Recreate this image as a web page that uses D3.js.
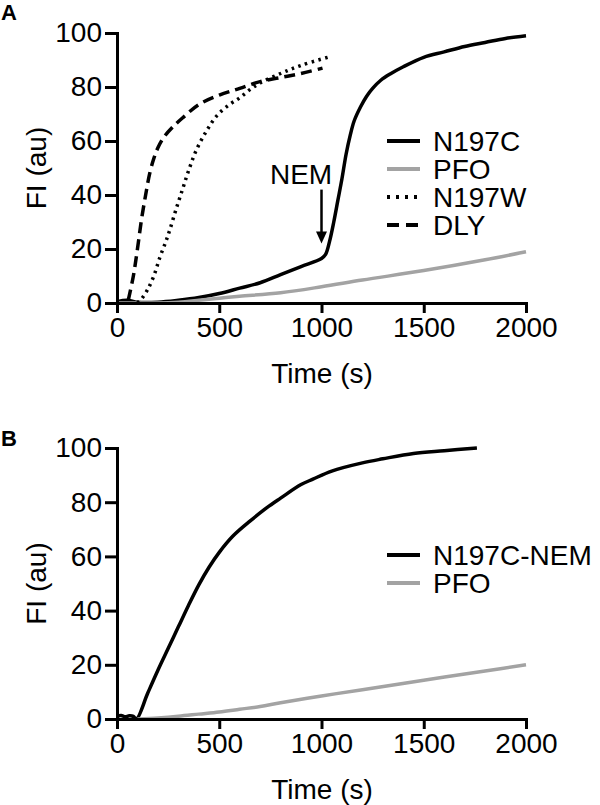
<!DOCTYPE html>
<html lang="en">
<head>
  <meta charset="UTF-8">
  <title>FI kinetics</title>
  <script src="https://d3js.org/d3.v7.min.js"></script>
  <style>
    body { margin: 0; background: #fff; }
    svg { font-family: "Liberation Sans", Arial, sans-serif; }
    .axis path, .axis line { stroke: #000; stroke-width: 3; }
    .axis text { font-size: 28px; fill: #000; }
    .title { font-size: 28px; fill: #000; }
    .panel-label { font-size: 22px; font-weight: bold; }
  </style>
</head>
<body>
  <script>
    // Panel A data (time in s, FI in au)
    const aN197C_t = [0, 50, 100, 200, 300, 400, 500, 600, 700, 800, 900, 1000, 1020, 1040, 1060, 1080, 1100, 1120, 1140, 1160, 1190, 1220, 1250, 1290, 1340, 1400, 1500, 1600, 1700, 1800, 1900, 2000];
    const aN197C_v = [0.5, 1, 0.3, 0.3, 1, 2, 3.5, 5.5, 7.5, 10.5, 13.5, 16.5, 18, 23, 30, 38, 46, 55, 62, 67.5, 72.5, 76.5, 79.5, 82.5, 85, 87.5, 91, 93, 95, 96.5, 98, 99];
    const aPFO_t = [0, 100, 200, 300, 400, 500, 600, 800, 1000, 1200, 1500, 1800, 2000];
    const aPFO_v = [0, 0, 0, 0.3, 1, 1.8, 2.5, 3.8, 6, 8.5, 12, 16, 19];
    const aN197W_t = [100, 120, 150, 180, 210, 240, 260, 290, 320, 350, 390, 440, 490, 550, 600, 650, 700, 800, 900, 1030];
    const aN197W_v = [0, 1.5, 5, 10, 17, 23, 27.5, 35, 42, 49, 57, 64, 69.5, 73.5, 76, 79, 81.5, 85, 88, 91];
    const aDLY_t = [55, 80, 100, 120, 140, 160, 180, 200, 230, 270, 320, 400, 500, 600, 700, 800, 900, 1005];
    const aDLY_v = [1, 10, 20, 31, 40, 48, 53.5, 57.5, 61.5, 65, 68.5, 73.5, 77, 79.5, 82, 83.5, 85, 87];

    // Panel B data
    const bNEM_t = [0, 20, 40, 60, 80, 95, 150, 200, 250, 300, 350, 400, 450, 500, 567, 650, 733, 800, 900, 958, 1050, 1200, 1300, 1450, 1600, 1760];
    const bNEM_v = [1, 1.3, 0.8, 1.2, 1, 0, 9.5, 18, 26, 34, 42, 49.5, 56, 61.5, 67.5, 73, 78, 81.5, 86.5, 88.5, 91.5, 94.5, 96, 98, 99, 100];
    const bPFO_t = [100, 200, 300, 400, 500, 600, 700, 800, 1000, 1200, 1500, 1800, 2000];
    const bPFO_v = [0, 0.4, 1, 1.8, 2.6, 3.6, 4.6, 6, 8.5, 10.8, 14.3, 17.7, 20];

    const xTicks = [0, 500, 1000, 1500, 2000];
    const yTicks = [0, 20, 40, 60, 80, 100];

    const grey = "#a3a3a3";
    const styles = {
      solid: { color: "#000", dash: null },
      grey: { color: grey, dash: null },
      dotted: { color: "#000", dash: "2.5,4.5" },
      dashed: { color: "#000", dash: "11,6" }
    };

    const svg = d3.select("body").append("svg")
      .attr("width", 600)
      .attr("height", 805);

    function drawPanel(cfg) {
      const x = d3.scaleLinear().domain([0, 2000]).range([117, 526]);
      const y = d3.scaleLinear().domain([0, 100]).range([cfg.bottom, cfg.top]);
      const g = svg.append("g");

      const line = d3.line()
        .x(d => x(d[0]))
        .y(d => y(d[1]))
        .curve(d3.curveCatmullRom.alpha(0.5));

      cfg.series.forEach(s => {
        const st = styles[s.style];
        g.append("path")
          .datum(d3.zip(s.t, s.v))
          .attr("fill", "none")
          .attr("stroke", st.color)
          .attr("stroke-width", 3.5)
          .attr("stroke-dasharray", st.dash)
          .attr("d", line);
      });

      // axes
      g.append("g")
        .attr("class", "axis")
        .attr("transform", `translate(0,${cfg.bottom})`)
        .call(d3.axisBottom(x).tickValues(xTicks).tickFormat(d3.format("d")).tickSize(10).tickSizeOuter(0).tickPadding(4))
        .call(a => a.selectAll("text").attr("font-family", null).attr("font-size", null));

      g.append("g")
        .attr("class", "axis")
        .attr("transform", "translate(117,0)")
        .call(d3.axisLeft(y).tickValues(yTicks).tickFormat(d3.format("d")).tickSize(12).tickSizeOuter(0).tickPadding(3))
        .call(a => a.selectAll("text").attr("font-family", null).attr("font-size", null));

      g.selectAll(".axis path").attr("stroke-linecap", "square");

      // axis titles
      g.append("text")
        .attr("class", "title")
        .attr("text-anchor", "middle")
        .attr("x", 322)
        .attr("y", cfg.bottom + 80)
        .text("Time (s)");

      g.append("text")
        .attr("class", "title")
        .attr("text-anchor", "middle")
        .attr("transform", `translate(46,${(cfg.top + cfg.bottom) / 2}) rotate(-90)`)
        .text("FI (au)");

      g.append("text")
        .attr("class", "panel-label")
        .attr("x", 1)
        .attr("y", cfg.labelY)
        .text(cfg.label);

      // legend
      const leg = g.append("g");
      cfg.series.forEach((s, i) => {
        const st = styles[s.style];
        const cy = cfg.legendY + i * 28;
        leg.append("line")
          .attr("x1", 387).attr("x2", 420)
          .attr("y1", cy).attr("y2", cy)
          .attr("stroke", st.color)
          .attr("stroke-width", 4)
          .attr("stroke-dasharray", s.style === "dotted" ? "3,6" : s.style === "dashed" ? "12,7" : null);
        leg.append("text")
          .attr("class", "title")
          .attr("x", 433)
          .attr("y", cy + 10)
          .text(s.name);
      });

      return { x, y, g };
    }

    const pA = drawPanel({
      top: 33, bottom: 303, label: "A", labelY: 20, legendY: 141,
      series: [
        { name: "N197C", t: aN197C_t, v: aN197C_v, style: "solid" },
        { name: "PFO", t: aPFO_t, v: aPFO_v, style: "grey" },
        { name: "N197W", t: aN197W_t, v: aN197W_v, style: "dotted" },
        { name: "DLY", t: aDLY_t, v: aDLY_v, style: "dashed" }
      ]
    });

    drawPanel({
      top: 448, bottom: 719, label: "B", labelY: 446, legendY: 555,
      series: [
        { name: "N197C-NEM", t: bNEM_t, v: bNEM_v, style: "solid" },
        { name: "PFO", t: bPFO_t, v: bPFO_v, style: "grey" }
      ]
    });

    // NEM annotation (panel A)
    const nem = { t: 1000, top: 42, tip: 22, labelT: 900, labelV: 44 };
    pA.g.append("text")
      .attr("class", "title")
      .attr("text-anchor", "middle")
      .attr("x", pA.x(nem.labelT))
      .attr("y", pA.y(nem.labelV))
      .text("NEM");
    const ax = pA.x(nem.t), ay0 = pA.y(nem.top), ay1 = pA.y(nem.tip);
    pA.g.append("line")
      .attr("x1", ax).attr("x2", ax)
      .attr("y1", ay0).attr("y2", ay1 - 10)
      .attr("stroke", "#000")
      .attr("stroke-width", 2.5);
    pA.g.append("path")
      .attr("d", `M${ax - 5.5},${ay1 - 12}L${ax + 5.5},${ay1 - 12}L${ax},${ay1}Z`)
      .attr("fill", "#000");
  </script>
</body>
</html>
